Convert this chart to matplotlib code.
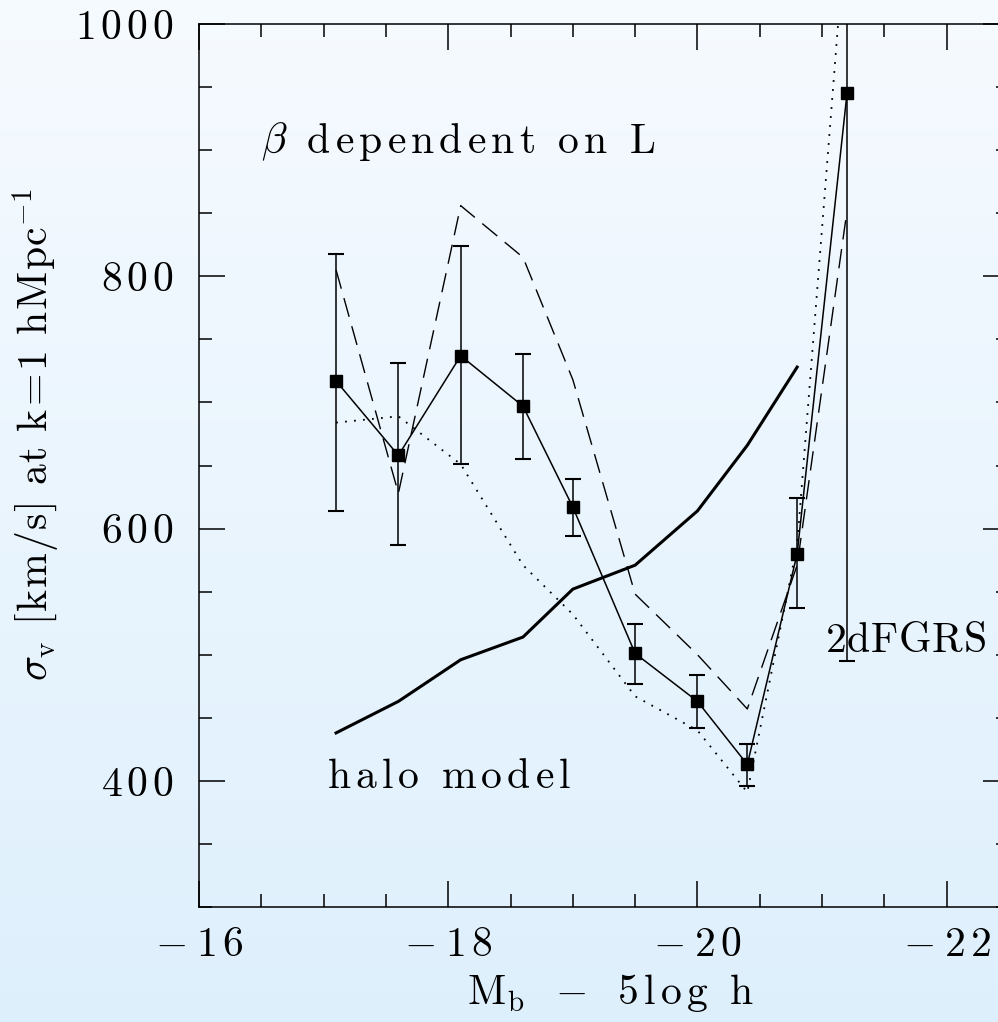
import numpy as np
import matplotlib
matplotlib.use("Agg")
import matplotlib.pyplot as plt
from matplotlib.ticker import MultipleLocator, FuncFormatter

# data
mag = [-17.1, -17.6, -18.1, -18.6, -19.0, -19.5, -20.0, -20.4, -20.8, -21.2]
sigma = [717, 658, 737, 697, 617, 501, 463, 413, 580, 945]
sigma_hi = [818, 731, 824, 738, 639, 524, 484, 429, 624, 1100]
sigma_lo = [614, 587, 651, 655, 594, 477, 442, 396, 537, 495]

dashed = [805, 628, 856, 815, 718, 548, 500, 457, 571, 852]
dotted = [684, 689, 651, 571, 532, 467, 440, 391, 587, 1090]

halo_mag = [-17.1, -17.6, -18.1, -18.6, -19.0, -19.5, -20.0, -20.4, -20.8]
halo_sigma = [438, 463, 496, 514, 552, 571, 614, 666, 728]

plt.rcParams['mathtext.fontset'] = 'cm'
plt.rcParams['font.family'] = 'serif'
plt.rcParams['font.serif'] = ['cmr10', 'DejaVu Serif']
plt.rcParams['axes.unicode_minus'] = False

SP = 0.14          # extra letter spacing (mathtext \hspace units)
WS = r'\ '         # word space


def chars(word):
    out = []
    for c in word:
        if c.isalnum():
            out.append(r'\mathrm{%s}' % c)
        elif c == '=':
            out.append(r'\hspace{-0.15}=\hspace{-0.15}')
        else:
            out.append(c)
    return out


def tracked(tokens, sp=SP):
    return '$' + (r'\hspace{%g}' % sp).join(tokens) + '$'


def tick_label(v, pos):
    s = str(int(round(v)))
    if s.startswith('-'):
        return tracked([r'-\hspace{0.1}'] + chars(s[1:]))
    return tracked(chars(s))


W, H = 998, 1022
fig = plt.figure(figsize=(W / 100, H / 100), dpi=100)

# background gradient
bg = fig.add_axes([0, 0, 1, 1], zorder=-10)
top = np.array([0.965, 0.982, 1.0])
bot = np.array([0.87, 0.94, 0.99])
t = np.linspace(0, 1, 256)[:, None]
grad = top[None, :] * (1 - t) + bot[None, :] * t
bg.imshow(grad[:, None, :], aspect='auto', extent=[0, 1, 0, 1])
bg.axis('off')

ax = fig.add_axes([199 / W, (H - 907) / H, 810 / W, 883 / H])
ax.set_facecolor('none')

lo = np.array(sigma) - np.array(sigma_lo)
hi = np.array(sigma_hi) - np.array(sigma)
ax.errorbar(mag, sigma, yerr=[lo, hi], fmt='s-', color='black', lw=1.1,
            ms=8, elinewidth=1.1, capsize=5.5, capthick=1.5)
ax.plot(mag, dashed, color='black', lw=1.0, dashes=(14, 7))
ax.plot(mag, dotted, color='black', lw=1.3, dashes=(1, 4))
ax.plot(halo_mag, halo_sigma, color='black', lw=2.2)

ax.set_xlim(-16, -22.5)
ax.set_ylim(300, 1000)

ax.xaxis.set_major_locator(MultipleLocator(2))
ax.xaxis.set_minor_locator(MultipleLocator(0.5))
ax.yaxis.set_major_locator(MultipleLocator(200))
ax.yaxis.set_minor_locator(MultipleLocator(50))
ax.xaxis.set_major_formatter(FuncFormatter(tick_label))
ax.yaxis.set_major_formatter(FuncFormatter(tick_label))

ax.tick_params(which='both', direction='in', top=True, right=True, width=1.1,
               labelsize=30)
ax.tick_params(which='major', length=19)
ax.tick_params(which='minor', length=9.5)
ax.tick_params(axis='x', pad=14)
ax.tick_params(axis='y', pad=18)
for s in ax.spines.values():
    s.set_linewidth(1.1)

xlab = [r'\mathrm{M}_{\mathrm{b}}', WS, '-', WS] + chars('5log') + [WS, r'\mathrm{h}']
ax.set_xlabel(tracked(xlab), fontsize=30)
ax.xaxis.set_label_coords((610 - 199) / 810, -(972 - 907) / 883)

ylab = ([r'\sigma_{\mathrm{v}}', WS] + chars('[km/s]') + [WS] + chars('at')
        + [WS] + chars('k=1') + [WS] + chars('hMp') + [r'\mathrm{c}^{-1}'])
ax.set_ylabel(tracked(ylab, sp=0.04), fontsize=30)
ax.yaxis.set_label_coords(-(199 - 62) / 810, (907 - 435) / 883)

txt1 = [r'\beta', WS] + chars('dependent') + [WS] + chars('on') + [WS] + chars('L')
ax.text(-16.5, 907, tracked(txt1), fontsize=30, va='center', ha='left')
txt2 = chars('halo') + [WS] + chars('model')
ax.text(-17.03, 403, tracked(txt2), fontsize=30, va='center', ha='left')
ax.text(-21.02, 511, tracked(chars('2dFGRS'), sp=0.02), fontsize=30,
        va='center', ha='left')

fig.savefig('out.png', dpi=100)
